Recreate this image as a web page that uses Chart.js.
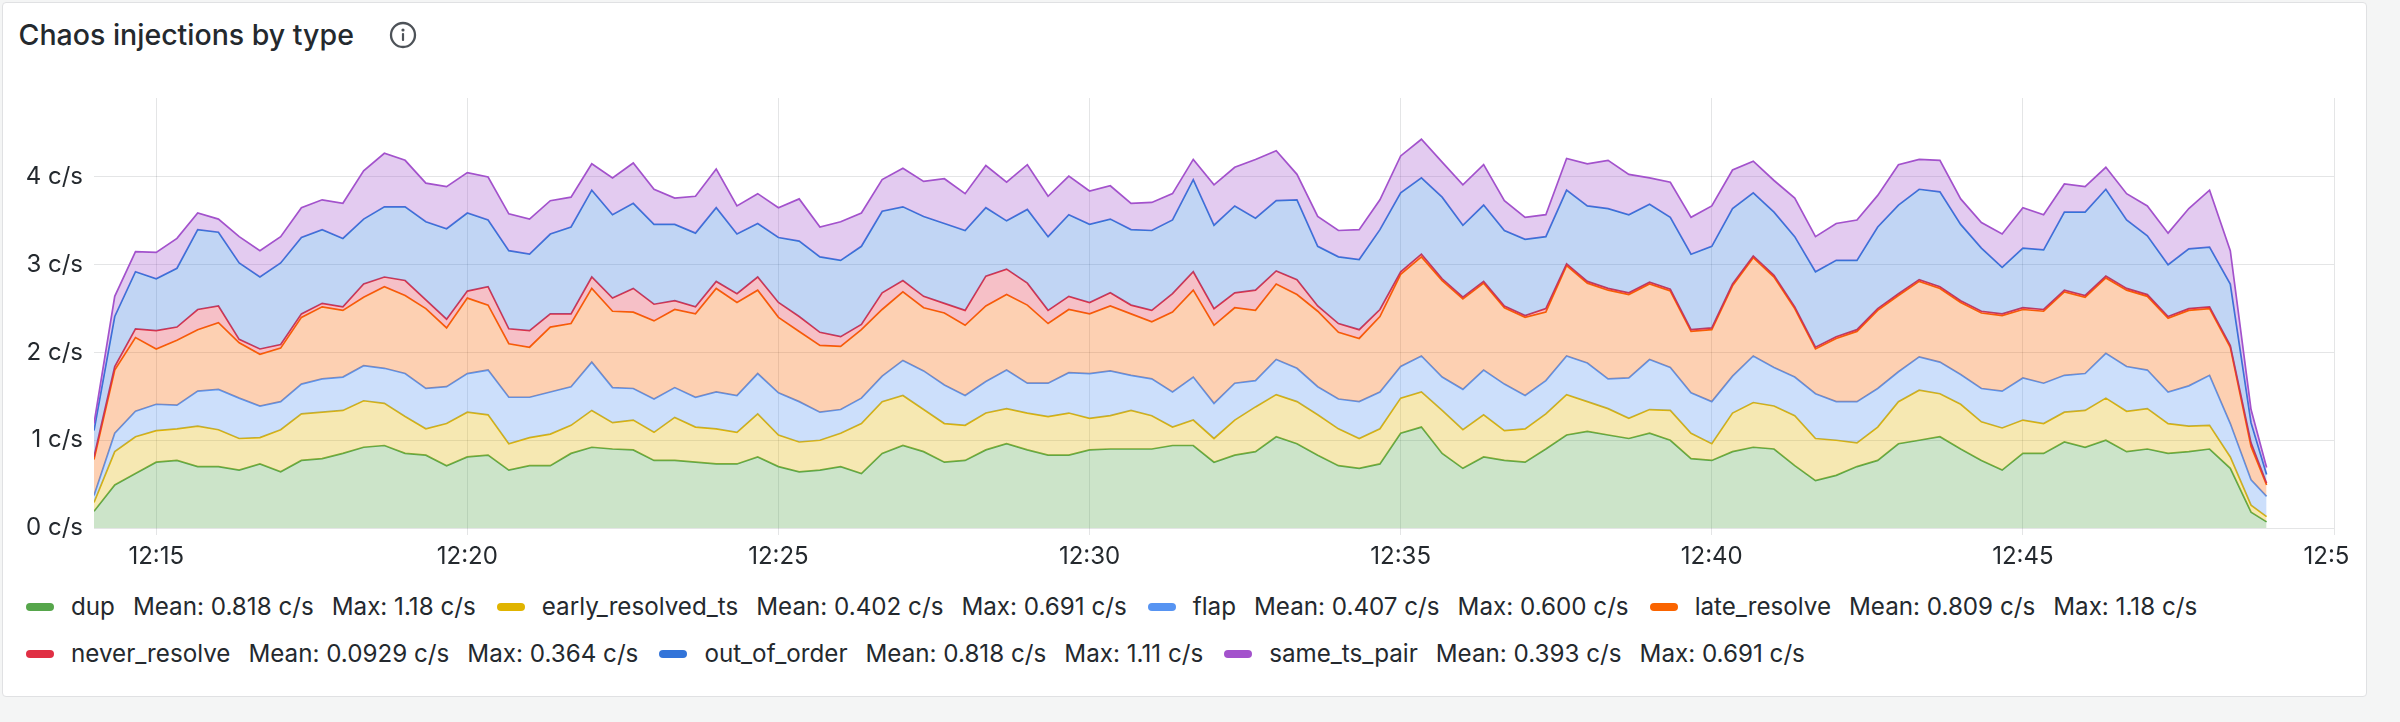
<!DOCTYPE html>
<html lang="en">
<head>
    <meta charset="UTF-8">
    <title>Chaos injections by type</title>
    <script src="https://cdn.jsdelivr.net/npm/chart.js"></script>
    <style>
        body { margin: 0; width: 2400px; height: 722px; background: #f4f5f5; overflow: hidden; font-family: Inter, sans-serif; color: #24292e; }
        .panel { position: absolute; left: 2px; top: 2px; width: 2363px; height: 693px; background: #fff; border: 1px solid #e0e1e3; border-radius: 4px; }
        .title { position: absolute; left: 18.5px; top: 17px; font-size: 28.5px; line-height: 36px; font-weight: 500; white-space: nowrap; }
        .info { position: absolute; left: 389px; top: 21px; }
        .chart-box { position: absolute; left: 0; top: 88px; width: 2348px; height: 482px; }
        .legend { position: absolute; left: 26px; top: 584px; width: 2330px; display: flex; flex-wrap: wrap; column-gap: 21px; font-size: 24.2px; line-height: 46.6px; white-space: nowrap; }
        .legend .item { display: flex; align-items: center; }
        .legend .swatch { width: 28px; height: 8px; border-radius: 4px; margin-right: 17px; }
        .legend .stat { margin-left: 18px; }
    </style>
</head>
<body>
    <div class="panel"></div>
    <div class="title">Chaos injections by type</div>
    <svg class="info" width="28" height="28" viewBox="0 0 28 28">
        <circle cx="14" cy="14" r="12" fill="none" stroke="#4d5258" stroke-width="2.3"/>
        <circle cx="14" cy="9" r="1.6" fill="#4d5258"/>
        <rect x="12.9" y="12" width="2.2" height="8" rx="1" fill="#4d5258"/>
    </svg>
    <div class="chart-box"><canvas id="chaosChart" width="2348" height="482"></canvas></div>
    <div class="legend" id="legend"></div>

    <script>
        // séries et échantillons (toutes les 20 s)
        const seriesNames = ['dup', 'early_resolved_ts', 'flap', 'late_resolve', 'never_resolve', 'out_of_order', 'same_ts_pair'];
        const seriesColors = ['#56A64B', '#E0B400', '#5794F2', '#FA6400', '#E02F44', '#3274D9', '#A352CC'];
        const meanLabels = ['0.818 c/s', '0.402 c/s', '0.407 c/s', '0.809 c/s', '0.0929 c/s', '0.818 c/s', '0.393 c/s'];
        const maxLabels = ['1.18 c/s', '0.691 c/s', '0.600 c/s', '1.18 c/s', '0.364 c/s', '1.11 c/s', '0.691 c/s'];

        const xTickLabels = ['12:15', '12:20', '12:25', '12:30', '12:35', '12:40', '12:45', '12:50'];
        const yTickValues = [0, 1, 2, 3, 4];
        const yTickLabels = ['0 c/s', '1 c/s', '2 c/s', '3 c/s', '4 c/s'];

        const times = [
            '12:14:00', '12:14:20', '12:14:40', '12:15:00', '12:15:20', '12:15:40', '12:16:00', '12:16:20', '12:16:40',
            '12:17:00', '12:17:20', '12:17:40', '12:18:00', '12:18:20', '12:18:40', '12:19:00', '12:19:20', '12:19:40',
            '12:20:00', '12:20:20', '12:20:40', '12:21:00', '12:21:20', '12:21:40', '12:22:00', '12:22:20', '12:22:40',
            '12:23:00', '12:23:20', '12:23:40', '12:24:00', '12:24:20', '12:24:40', '12:25:00', '12:25:20', '12:25:40',
            '12:26:00', '12:26:20', '12:26:40', '12:27:00', '12:27:20', '12:27:40', '12:28:00', '12:28:20', '12:28:40',
            '12:29:00', '12:29:20', '12:29:40', '12:30:00', '12:30:20', '12:30:40', '12:31:00', '12:31:20', '12:31:40',
            '12:32:00', '12:32:20', '12:32:40', '12:33:00', '12:33:20', '12:33:40', '12:34:00', '12:34:20', '12:34:40',
            '12:35:00', '12:35:20', '12:35:40', '12:36:00', '12:36:20', '12:36:40', '12:37:00', '12:37:20', '12:37:40',
            '12:38:00', '12:38:20', '12:38:40', '12:39:00', '12:39:20', '12:39:40', '12:40:00', '12:40:20', '12:40:40',
            '12:41:00', '12:41:20', '12:41:40', '12:42:00', '12:42:20', '12:42:40', '12:43:00', '12:43:20', '12:43:40',
            '12:44:00', '12:44:20', '12:44:40', '12:45:00', '12:45:20', '12:45:40', '12:46:00', '12:46:20', '12:46:40',
            '12:47:00', '12:47:20', '12:47:40', '12:48:00', '12:48:20', '12:48:40', '12:48:55'
        ];

        const dup = [
            0.19, 0.49, 0.62, 0.75, 0.77, 0.70, 0.70, 0.66, 0.73, 0.64, 0.77, 0.79, 0.85, 0.92, 0.94, 0.85, 0.83, 0.71,
            0.81, 0.83, 0.66, 0.71, 0.71, 0.85, 0.92, 0.90, 0.89, 0.77, 0.77, 0.75, 0.73, 0.73, 0.81, 0.70, 0.64, 0.66,
            0.70, 0.62, 0.85, 0.94, 0.87, 0.75, 0.77, 0.89, 0.96, 0.89, 0.83, 0.83, 0.89, 0.90, 0.90, 0.90, 0.94, 0.94,
            0.75, 0.83, 0.87, 1.04, 0.96, 0.83, 0.71, 0.68, 0.73, 1.08, 1.15, 0.85, 0.68, 0.81, 0.77, 0.75, 0.90, 1.06,
            1.10, 1.06, 1.02, 1.08, 1.00, 0.79, 0.77, 0.87, 0.92, 0.90, 0.71, 0.54, 0.60, 0.70, 0.77, 0.96, 1.00, 1.04,
            0.90, 0.77, 0.66, 0.85, 0.85, 0.98, 0.92, 1.00, 0.87, 0.90, 0.85, 0.87, 0.90, 0.68, 0.18, 0.07
        ];
        const earlyResolvedTs = [
            0.10, 0.38, 0.42, 0.36, 0.36, 0.46, 0.42, 0.36, 0.30, 0.48, 0.53, 0.53, 0.49, 0.53, 0.48, 0.42, 0.30, 0.48,
            0.51, 0.46, 0.30, 0.32, 0.36, 0.32, 0.42, 0.30, 0.34, 0.32, 0.49, 0.40, 0.40, 0.36, 0.49, 0.36, 0.34, 0.34,
            0.38, 0.57, 0.59, 0.57, 0.48, 0.44, 0.40, 0.42, 0.40, 0.42, 0.44, 0.48, 0.36, 0.38, 0.44, 0.38, 0.21, 0.29,
            0.27, 0.40, 0.51, 0.48, 0.48, 0.46, 0.42, 0.34, 0.40, 0.40, 0.40, 0.49, 0.44, 0.48, 0.34, 0.38, 0.40, 0.46,
            0.34, 0.30, 0.23, 0.27, 0.34, 0.29, 0.19, 0.44, 0.51, 0.49, 0.57, 0.48, 0.40, 0.27, 0.38, 0.48, 0.57, 0.49,
            0.51, 0.44, 0.48, 0.38, 0.34, 0.34, 0.42, 0.48, 0.46, 0.46, 0.34, 0.29, 0.27, 0.13, 0.08, 0.06
        ];
        const flap = [
            0.08, 0.21, 0.29, 0.30, 0.27, 0.40, 0.46, 0.46, 0.36, 0.32, 0.34, 0.38, 0.38, 0.40, 0.40, 0.49, 0.46, 0.42,
            0.44, 0.51, 0.53, 0.46, 0.48, 0.44, 0.55, 0.40, 0.36, 0.38, 0.34, 0.34, 0.42, 0.42, 0.46, 0.48, 0.46, 0.32,
            0.27, 0.29, 0.29, 0.40, 0.44, 0.44, 0.34, 0.36, 0.44, 0.34, 0.38, 0.46, 0.51, 0.51, 0.40, 0.42, 0.40, 0.49,
            0.40, 0.42, 0.30, 0.40, 0.38, 0.32, 0.34, 0.42, 0.42, 0.36, 0.41, 0.38, 0.46, 0.51, 0.53, 0.38, 0.38, 0.44,
            0.44, 0.34, 0.46, 0.57, 0.49, 0.46, 0.48, 0.42, 0.53, 0.44, 0.44, 0.51, 0.44, 0.47, 0.44, 0.34, 0.38, 0.36,
            0.34, 0.38, 0.42, 0.48, 0.46, 0.42, 0.42, 0.51, 0.51, 0.44, 0.36, 0.46, 0.57, 0.38, 0.29, 0.23
        ];
        const lateResolve = [
            0.41, 0.72, 0.84, 0.63, 0.74, 0.70, 0.76, 0.63, 0.59, 0.61, 0.76, 0.82, 0.76, 0.78, 0.93, 0.89, 0.91, 0.67,
            0.86, 0.74, 0.61, 0.57, 0.74, 0.72, 0.84, 0.87, 0.87, 0.89, 0.89, 0.95, 1.18, 1.06, 0.95, 0.86, 0.80, 0.76,
            0.72, 0.78, 0.76, 0.78, 0.72, 0.82, 0.80, 0.86, 0.86, 0.89, 0.68, 0.72, 0.68, 0.74, 0.70, 0.65, 0.91, 0.99,
            0.89, 0.86, 0.80, 0.86, 0.84, 0.86, 0.76, 0.72, 0.86, 1.05, 1.13, 1.10, 1.03, 0.99, 0.87, 0.89, 0.78, 1.03,
            0.91, 1.01, 0.95, 0.86, 0.87, 0.70, 0.82, 1.03, 1.12, 1.03, 0.78, 0.51, 0.72, 0.80, 0.89, 0.87, 0.86, 0.84,
            0.82, 0.86, 0.86, 0.78, 0.82, 0.95, 0.87, 0.86, 0.87, 0.84, 0.84, 0.86, 0.76, 0.87, 0.38, 0.13
        ];
        const neverResolve = [
            0.03, 0.04, 0.10, 0.21, 0.15, 0.23, 0.19, 0.04, 0.06, 0.04, 0.04, 0.04, 0.04, 0.15, 0.11, 0.17, 0.10, 0.10,
            0.08, 0.21, 0.17, 0.19, 0.15, 0.11, 0.13, 0.15, 0.27, 0.19, 0.10, 0.08, 0.08, 0.10, 0.15, 0.17, 0.17, 0.15,
            0.11, 0.06, 0.19, 0.13, 0.13, 0.11, 0.17, 0.34, 0.29, 0.25, 0.15, 0.15, 0.13, 0.15, 0.10, 0.13, 0.21, 0.21,
            0.19, 0.17, 0.23, 0.15, 0.17, 0.06, 0.10, 0.10, 0.08, 0.03, 0.03, 0.02, 0.02, 0.02, 0.02, 0.02, 0.04, 0.02,
            0.02, 0.02, 0.02, 0.02, 0.02, 0.02, 0.02, 0.02, 0.02, 0.02, 0.02, 0.02, 0.02, 0.02, 0.02, 0.02, 0.02, 0.02,
            0.02, 0.02, 0.02, 0.02, 0.02, 0.02, 0.02, 0.02, 0.02, 0.02, 0.02, 0.02, 0.02, 0.02, 0.04, 0.02
        ];
        const outOfOrder = [
            0.30, 0.57, 0.65, 0.59, 0.67, 0.91, 0.84, 0.87, 0.82, 0.93, 0.87, 0.84, 0.78, 0.74, 0.80, 0.84, 0.89, 1.03,
            0.89, 0.76, 0.89, 0.87, 0.91, 0.99, 0.99, 0.95, 0.97, 0.91, 0.87, 0.84, 0.84, 0.68, 0.61, 0.74, 0.86, 0.86,
            0.87, 0.89, 0.93, 0.84, 0.91, 0.91, 0.91, 0.78, 0.55, 0.84, 0.84, 0.93, 0.89, 0.84, 0.86, 0.91, 0.84, 1.05,
            0.95, 0.99, 0.82, 0.80, 0.91, 0.68, 0.76, 0.80, 0.91, 0.90, 0.87, 0.93, 0.82, 0.87, 0.86, 0.87, 0.82, 0.84,
            0.86, 0.91, 0.89, 0.89, 0.82, 0.86, 0.93, 0.86, 0.72, 0.72, 0.80, 0.86, 0.87, 0.79, 0.93, 1.01, 1.03, 1.08,
            0.87, 0.72, 0.53, 0.68, 0.68, 0.89, 0.95, 0.99, 0.78, 0.67, 0.59, 0.68, 0.68, 0.70, 0.23, 0.10
        ];
        const sameTsPair = [
            0.08, 0.23, 0.23, 0.30, 0.34, 0.19, 0.15, 0.30, 0.30, 0.30, 0.34, 0.34, 0.40, 0.55, 0.61, 0.53, 0.44, 0.48,
            0.46, 0.49, 0.42, 0.40, 0.38, 0.34, 0.30, 0.42, 0.46, 0.40, 0.30, 0.42, 0.44, 0.32, 0.34, 0.34, 0.48, 0.34,
            0.44, 0.38, 0.36, 0.44, 0.40, 0.51, 0.42, 0.48, 0.44, 0.51, 0.46, 0.44, 0.38, 0.38, 0.30, 0.32, 0.30, 0.23,
            0.46, 0.44, 0.67, 0.57, 0.29, 0.34, 0.30, 0.34, 0.34, 0.42, 0.44, 0.40, 0.46, 0.46, 0.34, 0.25, 0.25, 0.36,
            0.48, 0.55, 0.46, 0.30, 0.40, 0.42, 0.46, 0.44, 0.36, 0.36, 0.44, 0.40, 0.42, 0.46, 0.36, 0.46, 0.34, 0.36,
            0.29, 0.29, 0.38, 0.46, 0.40, 0.32, 0.29, 0.25, 0.30, 0.34, 0.36, 0.46, 0.65, 0.38, 0.15, 0.08
        ];

        const seriesValues = [dup, earlyResolvedTs, flap, lateResolve, neverResolve, outOfOrder, sameTsPair];

        // minutes après 12:00
        function toMinutes(t) {
            const p = t.split(':').map(Number);
            return p[0] * 60 + p[1] + (p[2] || 0) / 60 - 720;
        }
        function withAlpha(hex, a) {
            const n = parseInt(hex.slice(1), 16);
            return `rgba(${(n >> 16) & 255}, ${(n >> 8) & 255}, ${n & 255}, ${a})`;
        }

        const xValues = times.map(toMinutes);
        const xTickValues = xTickLabels.map(toMinutes);

        // empilement fait ici pour que la dernière série soit dessinée par-dessus
        const running = xValues.map(() => 0);
        const stacked = seriesValues.map(values => values.map((v, j) => {
            running[j] += v;
            return { x: xValues[j], y: running[j] };
        }));

        Chart.defaults.font.family = 'Inter';
        Chart.defaults.color = '#24292e';

        const gridColor = 'rgba(36, 41, 46, 0.12)';

        new Chart(document.getElementById('chaosChart').getContext('2d'), {
            type: 'line',
            data: {
                datasets: seriesNames.map((name, i) => ({
                    label: name,
                    data: stacked[i],
                    order: seriesNames.length - i,
                    borderColor: seriesColors[i],
                    backgroundColor: withAlpha(seriesColors[i], 0.3),
                    borderWidth: 1.7,
                    pointRadius: 0,
                    tension: 0,
                    fill: i === 0 ? 'origin' : '-1'
                }))
            },
            options: {
                responsive: false,
                animation: false,
                devicePixelRatio: 1,
                layout: { padding: { top: 10, right: 14, left: 0, bottom: 0 } },
                plugins: {
                    legend: { display: false },
                    tooltip: { enabled: false }
                },
                scales: {
                    x: {
                        type: 'linear',
                        min: 14,
                        max: 50,
                        afterBuildTicks: s => { s.ticks = xTickValues.map(v => ({ value: v })); },
                        afterFit: s => { s.height = 42; s.paddingLeft = 0; s.paddingRight = 0; },
                        ticks: {
                            autoSkip: false,
                            maxRotation: 0,
                            padding: 7,
                            font: { size: 24 },
                            callback: (v, i) => xTickLabels[i]
                        },
                        grid: { color: gridColor, tickLength: 7 },
                        border: { display: false }
                    },
                    y: {
                        min: 0,
                        max: 4.9,
                        afterBuildTicks: s => { s.ticks = yTickValues.map(v => ({ value: v })); },
                        afterFit: s => { s.width = 94; s.paddingTop = 0; s.paddingBottom = 0; },
                        ticks: {
                            padding: 11,
                            font: { size: 24 },
                            callback: (v, i) => yTickLabels[i]
                        },
                        grid: { color: gridColor, drawTicks: false },
                        border: { display: false }
                    }
                }
            }
        });

        // légende façon tableau de bord
        const legend = document.getElementById('legend');
        seriesNames.forEach((name, i) => {
            const item = document.createElement('div');
            item.className = 'item';
            item.innerHTML = `<span class="swatch" style="background:${seriesColors[i]}"></span>` +
                `<span>${name}</span>` +
                `<span class="stat">Mean: ${meanLabels[i]}</span>` +
                `<span class="stat">Max: ${maxLabels[i]}</span>`;
            legend.appendChild(item);
        });
    </script>
</body>
</html>
